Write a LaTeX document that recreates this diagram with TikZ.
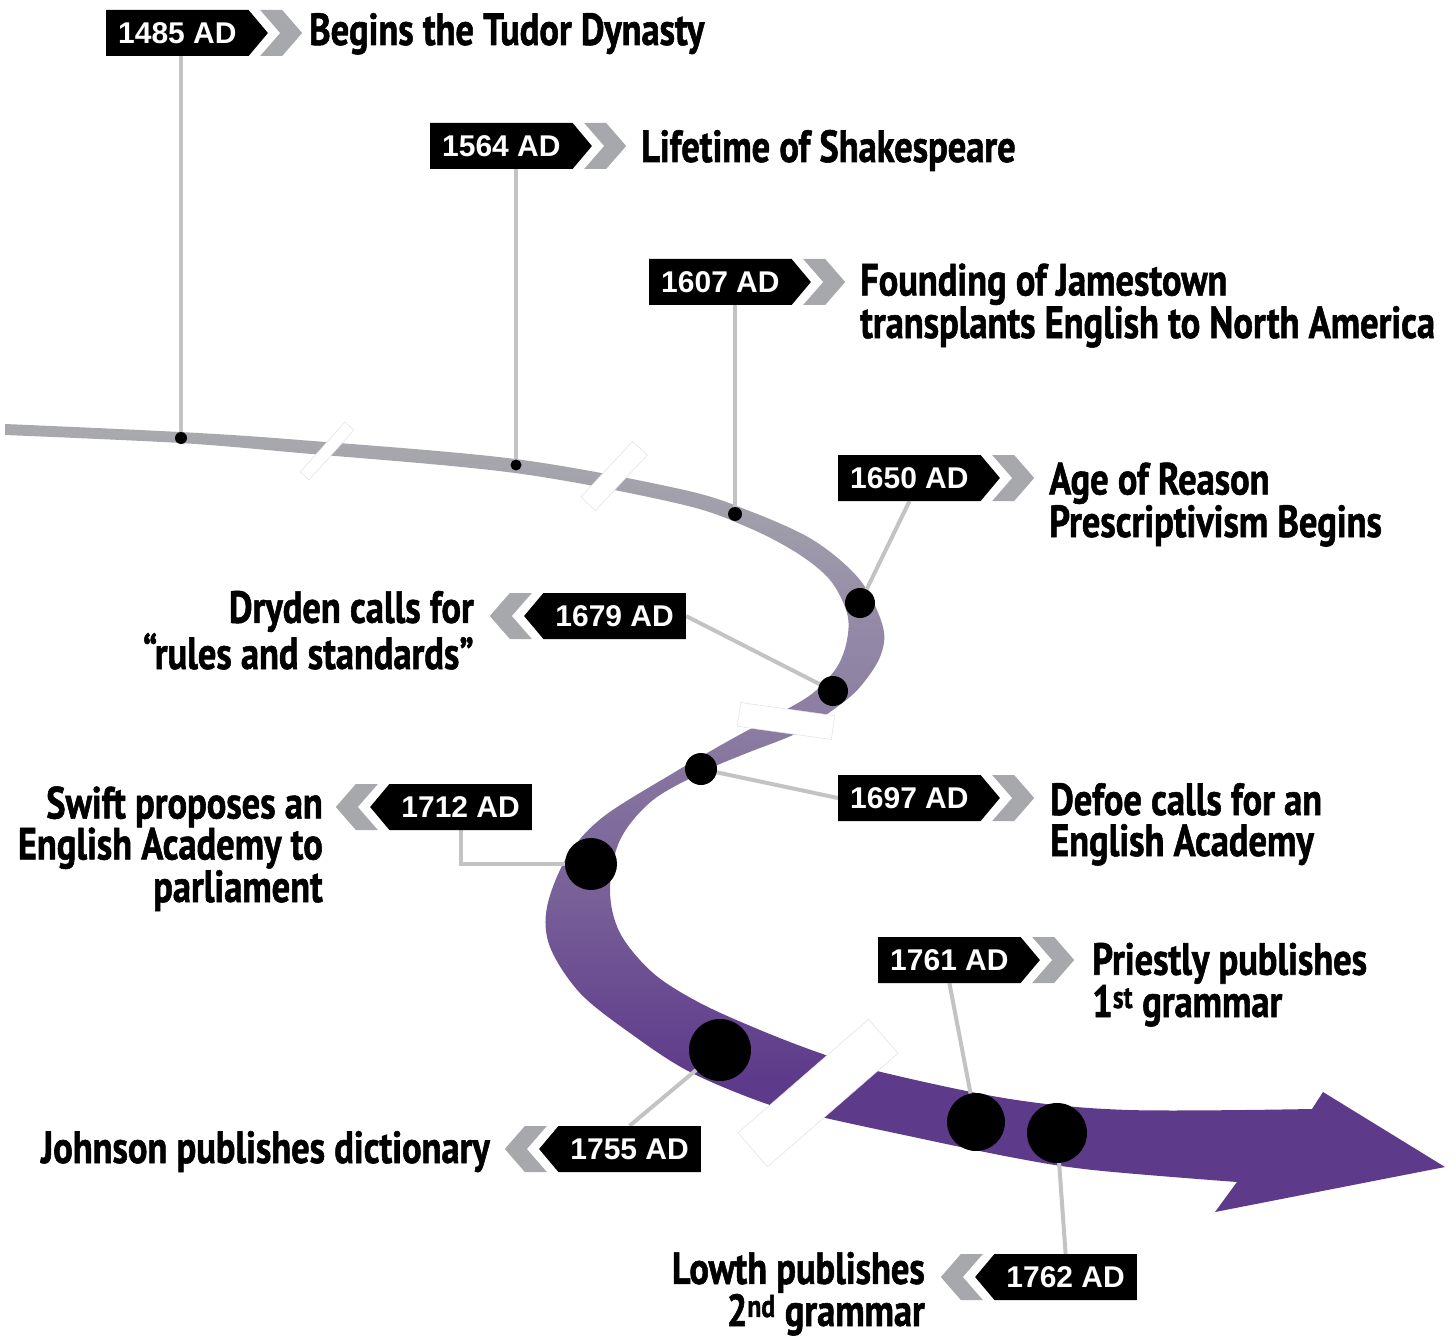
\documentclass[tikz,border=0pt]{standalone}
\usepackage{fontspec}
\setmainfont{Liberation Sans}
\newfontfamily\datefont{Liberation Sans}
\newfontfamily\labfont[FakeStretch=0.81,FakeBold=1.2]{PT Sans}
\usetikzlibrary{shapes.symbols,calc}
\definecolor{conncol}{HTML}{C3C3C3}
\definecolor{chevcol}{HTML}{A7A8AB}
\definecolor{cA}{HTML}{5D3A8A}
\definecolor{cB}{HTML}{5E3B8A}
\definecolor{cC}{HTML}{694A91}
\definecolor{cD}{HTML}{786098}
\definecolor{cE}{HTML}{8B7DA2}
\definecolor{cF}{HTML}{948AA6}
\definecolor{cG}{HTML}{A09EAA}
\definecolor{cH}{HTML}{A8A9AD}
\pgfdeclareverticalshading{bandshade}{100bp}{color(0bp)=(cA); color(25bp)=(cA); color(33.5bp)=(cB); color(38.5bp)=(cC); color(45bp)=(cD); color(56bp)=(cE); color(62.5bp)=(cF); color(69bp)=(cG); color(74.5bp)=(cH); color(100bp)=(cH)}
\pgfdeclarelayer{bg}
\pgfdeclarelayer{lines}
\pgfsetlayers{bg,lines,main}
\tikzset{
  datebox/.style={shape=signal, fill=black, text=white, font=\datefont\bfseries\fontsize{30}{31}\selectfont,
    minimum height=46pt, inner xsep=12pt, inner ysep=0pt, signal pointer angle=100},
  rbox/.style={datebox, signal to=east, anchor=west},
  lbox/.style={datebox, signal to=west, anchor=east},
  dot/.style={circle, fill=black, inner sep=0pt, minimum size=#1},
  conn/.style={draw=conncol, line width=4pt},
  brk/.style={rectangle, fill=white, draw=black!12, line width=0.5pt, inner sep=0pt},
  lab/.style={font=\labfont\bfseries\fontsize{45}{41}\selectfont, inner sep=0pt},
  chev/.style={fill=chevcol}
}
\newcommand{\chevR}[1]{\fill[chev] ($(#1.east)+(-8,-23)$) -- ($(#1.east)+(14,-23)$) -- ($(#1.east)+(34,0)$) -- ($(#1.east)+(14,23)$) -- ($(#1.east)+(-8,23)$) -- ($(#1.east)+(12,0)$) -- cycle;}
\newcommand{\chevL}[1]{\fill[chev] ($(#1.west)+(8,-23)$) -- ($(#1.west)+(-14,-23)$) -- ($(#1.west)+(-34,0)$) -- ($(#1.west)+(-14,23)$) -- ($(#1.west)+(8,23)$) -- ($(#1.west)+(-12,0)$) -- cycle;}
\begin{document}
\begin{tikzpicture}[x=1pt,y=-1pt]
\useasboundingbox (0,0) rectangle (1455,1337);
% band
\begin{pgfonlayer}{bg}
\shade[shading=bandshade]
  plot[smooth, tension=0.55] coordinates {(5,424) (180,432) (300,440) (515,459) (680,489) (747,510) (813,540) (860,580) (883,627) (880,657) (860,687) (837,707) (797,733) (747,753) (707,770) (653,800) (620,840) (610,890) (620,933) (653,973) (700,1003) (760,1030) (817,1052) (877,1071) (1010,1099) (1129,1110) (1312,1109)}
  -- (1323,1092) -- (1445,1167) -- (1215,1212) --
  plot[smooth, tension=0.55] coordinates {(1237,1182) (1093,1170) (1010,1157) (890,1132) (830,1119) (770,1105) (690,1072) (630,1033) (580,993) (550,947) (547,907) (567,857) (603,817) (675,772) (730,740) (780,713) (813,693) (837,667) (847,640) (847,613) (830,580) (797,553) (747,527) (680,504) (515,473) (300,453) (180,443) (5,435)}
  -- cycle;
\end{pgfonlayer}
% breaks
\node[brk, minimum width=67pt, minimum height=12pt, rotate=48] (k1) at (327,451) {};
\node[brk, minimum width=76pt, minimum height=20pt, rotate=47] (k2) at (614,476) {};
\node[brk, minimum width=95pt, minimum height=24pt, rotate=-8] (k3) at (786,721) {};
\node[brk, minimum width=173pt, minimum height=45pt, rotate=41] (k4) at (818,1093) {};
% dots
\node[dot=12pt] (p1485) at (181,438) {};
\node[dot=11pt] (p1564) at (516,465) {};
\node[dot=14pt] (p1607) at (735,514) {};
\node[dot=30pt] (p1650) at (860,603) {};
\node[dot=30pt] (p1679) at (833,691) {};
\node[dot=32pt] (p1697) at (701,769) {};
\node[dot=52pt] (p1712) at (591,864) {};
\node[dot=62pt] (p1755) at (720,1050) {};
\node[dot=58pt] (p1761) at (976,1122) {};
\node[dot=60pt] (p1762) at (1057,1133) {};
% date boxes
\node[rbox] (b1485) at (106,33) {1485 AD}; \chevR{b1485}
\node[rbox] (b1564) at (430,146) {1564 AD}; \chevR{b1564}
\node[rbox] (b1607) at (649,282) {1607 AD}; \chevR{b1607}
\node[rbox] (b1650) at (838,478) {1650 AD}; \chevR{b1650}
\node[lbox] (b1679) at (686,616) {1679 AD}; \chevL{b1679}
\node[rbox] (b1697) at (838,798) {1697 AD}; \chevR{b1697}
\node[lbox] (b1712) at (532,807) {1712 AD}; \chevL{b1712}
\node[lbox] (b1755) at (701,1149) {1755 AD}; \chevL{b1755}
\node[rbox] (b1761) at (878,960) {1761 AD}; \chevR{b1761}
\node[lbox] (b1762) at (1137,1277) {1762 AD}; \chevL{b1762}
% connectors
\begin{pgfonlayer}{lines}
\draw[conn] (b1485.south -| p1485) -- (p1485.center);
\draw[conn] (b1564.south -| p1564) -- (p1564.center);
\draw[conn] (b1607.south -| p1607) -- (p1607.center);
\draw[conn] (b1650.south) -- (p1650.center);
\draw[conn] (b1679.east) -- (p1679.center);
\draw[conn] (b1697.west) -- (p1697.center);
\draw[conn] (b1712.south) |- (p1712.center);
\draw[conn] (b1755.north) -- (p1755.center);
\draw[conn] (b1761.south) -- (p1761.center);
\draw[conn] (p1762.center) -- (b1762.north);
\end{pgfonlayer}
% labels (base anchor = baseline of the last line)
\node[lab, anchor=base west] (l1485) at (309,45) {Begins the Tudor Dynasty};
\node[lab, anchor=base west] (l1564) at (641,162) {Lifetime of Shakespeare};
\node[lab, anchor=base west, align=left] (l1607) at (860,338) {Founding of Jamestown\\transplants English to North America};
\node[lab, anchor=base west, align=left] (l1650) at (1049,537) {Age of Reason\\Prescriptivism Begins};
\node[lab, anchor=base east, align=right] (l1679) at (474,669) {Dryden calls for\\“rules and standards”};
\node[lab, anchor=base west, align=left] (l1697) at (1050,856) {Defoe calls for an\\English Academy};
\node[lab, anchor=base east, align=right] (l1712) at (323,902) {Swift proposes an\\English Academy to\\parliament};
\node[lab, anchor=base east] (l1755) at (490,1163) {Johnson publishes dictionary};
\node[lab, anchor=base west, align=left] (l1761) at (1092,1017) {Priestly publishes\\1\textsuperscript{st} grammar};
\node[lab, anchor=base east, align=right] (l1762) at (925,1326) {Lowth publishes\\2\textsuperscript{nd} grammar};
\end{tikzpicture}
\end{document}
